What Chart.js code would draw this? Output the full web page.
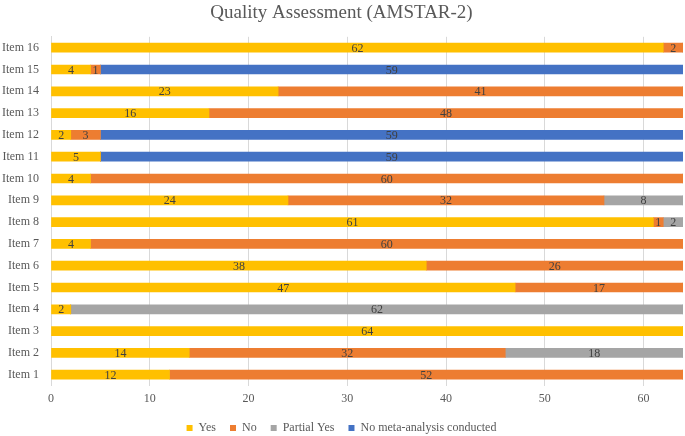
<!DOCTYPE html>
<html>
<head>
<meta charset="utf-8">
<script src="https://cdn.jsdelivr.net/npm/chart.js@4.4.1/dist/chart.umd.min.js"></script>
<style>
html,body{margin:0;padding:0;background:#fff}
#wrap{width:685px;height:436px}
</style>
</head>
<body>
<div id="wrap"><canvas id="c"></canvas></div>
<script>
const items=["Item 1","Item 2","Item 3","Item 4","Item 5","Item 6","Item 7","Item 8","Item 9","Item 10","Item 11","Item 12","Item 13","Item 14","Item 15","Item 16"]
const yes=[12,14,64,2,47,38,4,61,24,4,5,2,16,23,4,62]
const no=[52,32,0,0,17,26,60,1,32,60,0,3,48,41,1,2]
const partialYes=[0,18,0,62,0,0,0,2,8,0,0,0,0,0,0,0]
const noMeta=[0,0,0,0,0,0,0,0,0,0,59,59,0,0,59,0]
const xTicks=[0,10,20,30,40,50,60]

const serif="'Liberation Serif','Times New Roman',serif"

// draws the number in the middle of each segment
const segLabels={
id:"segLabels",
afterDatasetsDraw(chart){
const ctx=chart.ctx
ctx.save()
ctx.font="12px "+serif
ctx.fillStyle="#404040"
ctx.textAlign="center"
ctx.textBaseline="middle"
chart.data.datasets.forEach((ds,i)=>{
const meta=chart.getDatasetMeta(i)
meta.data.forEach((bar,j)=>{
const v=ds.data[j]
if(!v)return
ctx.fillText(String(v),(bar.x+bar.base)/2,bar.y+1)
})
})
ctx.restore()
}
}

new Chart(document.getElementById("c"),{
type:"bar",
data:{
labels:items,
datasets:[
{label:"Yes",data:yes,backgroundColor:"#FFC000"},
{label:"No",data:no,backgroundColor:"#ED7D31"},
{label:"Partial Yes",data:partialYes,backgroundColor:"#A5A5A5"},
{label:"No meta-analysis conducted",data:noMeta,backgroundColor:"#4472C4"}
]
},
options:{
indexAxis:"y",
responsive:true,
maintainAspectRatio:false,
animation:false,
barThickness:9,
layout:{padding:{left:0,right:2,top:0,bottom:-8}},
plugins:{
title:{display:true,text:"Quality Assessment (AMSTAR-2)",color:"#595959",
font:{family:serif,size:19,weight:"normal"},padding:{top:2,bottom:12}},
legend:{position:"bottom",labels:{boxWidth:6,boxHeight:6,color:"#595959",
font:{family:serif,size:12},padding:14}},
tooltip:{enabled:false}
},
scales:{
x:{stacked:true,min:0,max:64,
afterBuildTicks(axis){axis.ticks=xTicks.map(v=>({value:v}))},
afterFit(axis){axis.height-=4},
grid:{color:"#d9d9d9",drawTicks:false},
border:{display:false},
ticks:{color:"#595959",font:{family:serif,size:12},padding:6}
},
y:{stacked:true,reverse:true,
afterFit(axis){axis.width=51},
grid:{display:false,drawTicks:false},
border:{display:true,color:"#d9d9d9"},
ticks:{color:"#595959",font:{family:serif,size:12},padding:12}
}
}
},
plugins:[segLabels]
})
</script>
</body>
</html>
